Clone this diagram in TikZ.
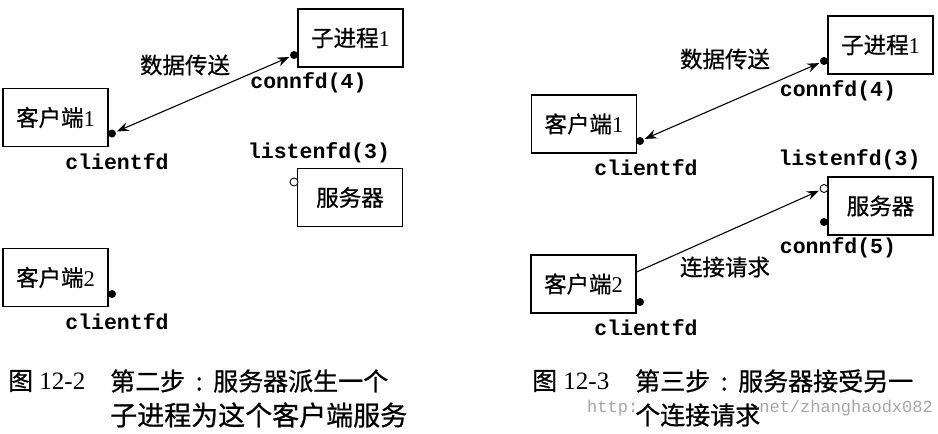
\documentclass[tikz,border=0pt]{standalone}
\usepackage{fontspec}
\setmainfont{Liberation Serif}
\setmonofont{Liberation Mono}
\newfontfamily\cjk[FakeBold=0.7]{Noto Sans CJK SC}
\usetikzlibrary{arrows.meta}
\begin{document}
\begin{tikzpicture}[x=1pt,y=-1pt,
  box/.style={draw,line width=1.3pt,minimum width=105pt,minimum height=58pt,inner sep=0pt,font=\fontsize{22.5}{24}\selectfont},
  fdot/.style={circle,fill,inner sep=0pt,minimum size=8pt},
  odot/.style={circle,draw,fill=white,line width=0.9pt,inner sep=0pt,minimum size=8pt},
  fd/.style={font=\fontsize{21.5}{24}\selectfont\ttfamily\bfseries,inner sep=0pt},
  cn/.style={font=\fontsize{22.5}{24}\selectfont\cjk,inner sep=0pt},
  captext/.style={anchor=west,inner sep=0pt,font=\fontsize{25}{28}\selectfont},
  wmark/.style={anchor=west,inner sep=0pt,text=black!35,font=\fontsize{17}{20}\selectfont\ttfamily},
  conn/.style={line width=1.1pt,shorten <=1pt,shorten >=1pt},
  >={Stealth[length=12pt,width=9pt,inset=4pt]}]
\path[use as bounding box,fill=white] (0,0) rectangle (938,434);

% ---------- left diagram ----------
\node[box] (lp)  at (350.5,38)   {{\cjk 子进程}1};
\node[box] (lc1) at (55.5,117.5) {{\cjk 客户端}1};
\node[box] (ls)  at (350,197.5)  {\cjk 服务器};
\node[box] (lc2) at (55.5,277.5) {{\cjk 客户端}2};

\node[fdot] (lpd)  at (294,55)  {};
\node[fdot] (lc1d) at (112,133.5) {};
\node[odot] (lso)  at (294,182) {};
\node[fdot] (lc2d) at (112,294) {};

\draw[conn,<->] (lc1d) -- (lpd);

\node[cn] (lt1) at (185,65) {数据传送};
\node[fd] (lf4) at (308.5,83)  {connfd(4)};
\node[fd] (lcf1) at (117,162)  {clientfd};
\node[fd] (llf) at (319,153)   {listenfd(3)};
\node[fd] (lcf2) at (117,322)  {clientfd};

% ---------- right diagram ----------
\node[box] (rp)  at (880.5,45)  {{\cjk 子进程}1};
\node[box] (rc1) at (584,124)   {{\cjk 客户端}1};
\node[box] (rs)  at (880.5,206) {\cjk 服务器};
\node[box] (rc2) at (583.5,284) {{\cjk 客户端}2};

\node[fdot] (rpd)  at (824,61)  {};
\node[fdot] (rc1d) at (640,141) {};
\node[odot] (rso)  at (824,188.5) {};
\node[fdot] (rsd)  at (824,222) {};
\node[fdot] (rc2d) at (640,302) {};

\draw[conn,<->] (rc1d) -- (rpd);
\draw[conn,->,shorten <=0pt] ([yshift=12pt]rc2.east) -- (rso);

\node[cn] (rt1) at (725,59)  {数据传送};
\node[cn] (rt2) at (725,267) {连接请求};
\node[fd] (rf4) at (838,91)    {connfd(4)};
\node[fd] (rcf1) at (646,168)  {clientfd};
\node[fd] (rlf) at (849.5,160) {listenfd(3)};
\node[fd] (rf5) at (838,248)   {connfd(5)};
\node[fd] (rcf2) at (646,328)  {clientfd};

% ---------- captions ----------
\node[captext] (l1a) at (8,381)   {{\cjk 图} 12-2};
\node[captext] (l1b) at (110,381) {\cjk 第二步\makebox[28pt]{:}服务器派生一个};
\node[captext,font=\fontsize{27}{30}\selectfont] (l2) at (110,415) {\cjk 子进程为这个客户端服务};

\node[captext] (r1a) at (532,381) {{\cjk 图} 12-3};
\node[captext] (r1b) at (635,381) {\cjk 第三步\makebox[28pt]{:}服务器接受另一};
\node[captext] (r2) at (635,415) {\cjk 个连接请求};

\node[wmark] (wm1) at (587,408) {http:};
\node[wmark,anchor=east] (wm2) at (933,408) {net/zhanghaodx082};
\end{tikzpicture}
\end{document}
